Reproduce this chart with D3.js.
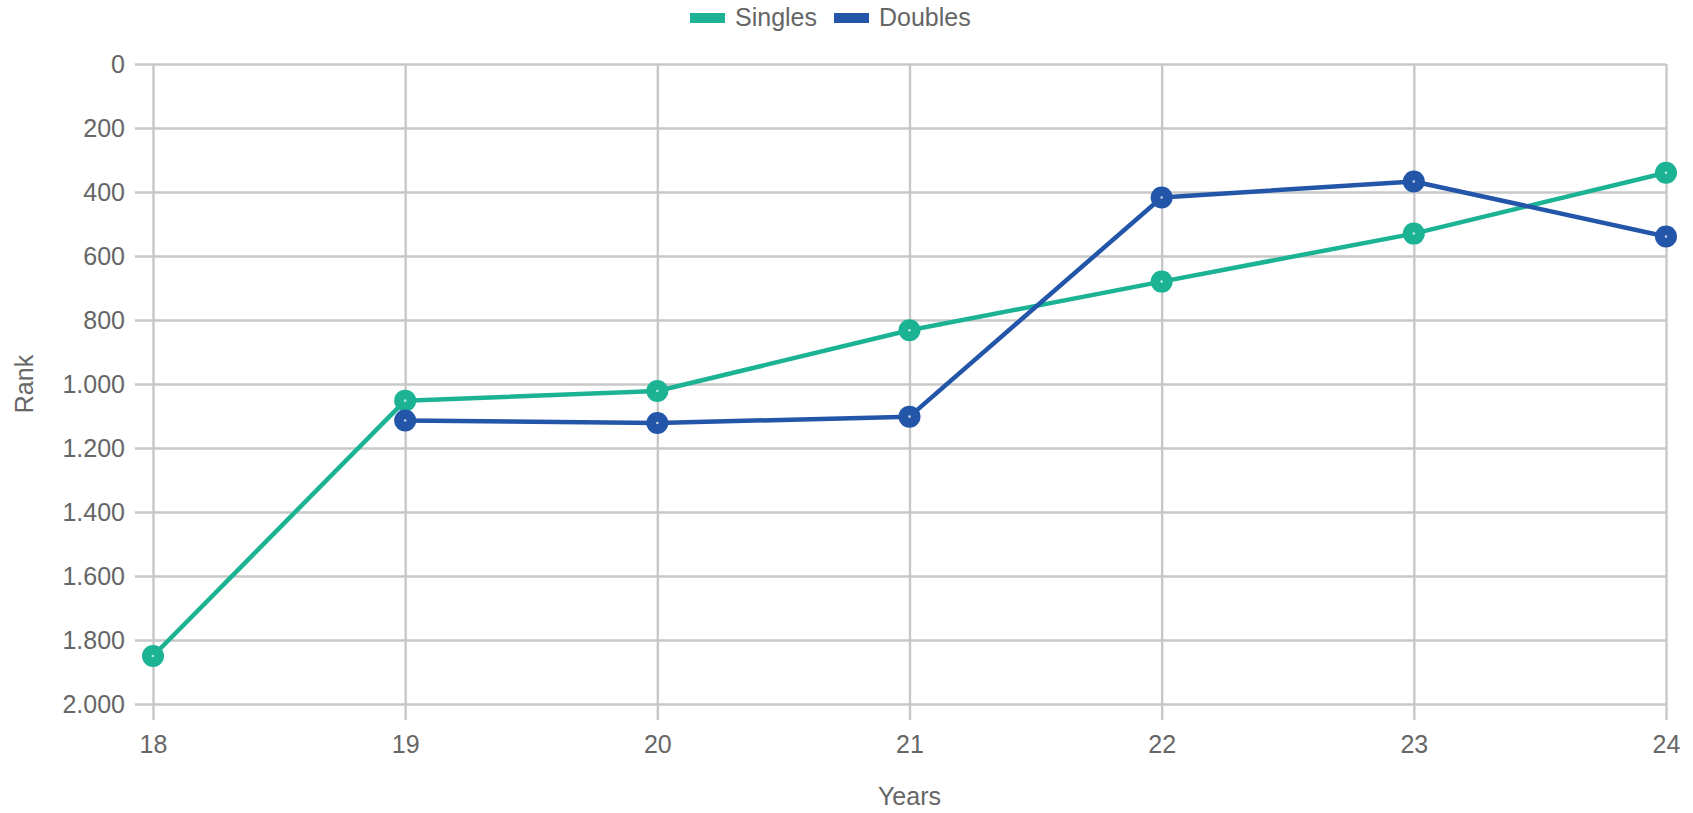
<!DOCTYPE html>
<html>
<head>
<meta charset="utf-8">
<script src="https://cdnjs.cloudflare.com/ajax/libs/d3/7.8.5/d3.min.js"></script>
<style>
  body { margin: 0; background: #fff; }
  text { font-family: "Liberation Sans", Arial, Helvetica, sans-serif; fill: #666; }
</style>
</head>
<body>
<div id="chart"></div>
<script>
// data
var years = ["18", "19", "20", "21", "22", "23", "24"];
var singles = [1850, 1052, 1022, 832, 680, 530, 340];
var doubles = [null, 1114, 1122, 1102, 417, 367, 539];
var rankTicks = [0, 200, 400, 600, 800, 1000, 1200, 1400, 1600, 1800, 2000];

var seriesNames = ["Singles", "Doubles"];
var seriesColors = ["#1bb394", "#2356a9"];

var W = 1693, H = 813;
var margin = {top: 64, right: 27, bottom: 109, left: 153};
var w = W - margin.left - margin.right;
var h = H - margin.top - margin.bottom;

var svg = d3.select("#chart").append("svg")
	.attr("width", W)
	.attr("height", H);

var x = d3.scalePoint().domain(years).range([0, w]);
var y = d3.scaleLinear().domain([0, 2000]).range([0, h]);

// german style thousands: 1.000
var de = d3.formatLocale({decimal: ",", thousands: ".", grouping: [3], currency: ["", " €"]});
var fmt = de.format(",d");

var g = svg.append("g").attr("transform", "translate(" + margin.left + "," + margin.top + ")");

// y grid + ticks (drawn from right edge so lines stick out 18px on the left)
var yAxis = g.append("g")
	.attr("transform", "translate(" + w + ",0)")
	.call(d3.axisLeft(y).tickValues(rankTicks).tickFormat(fmt).tickSize(w + 18).tickPadding(10));
yAxis.select(".domain").remove();
yAxis.selectAll("line").attr("stroke", "#c8c8c8").attr("stroke-width", 2.4);
yAxis.selectAll("text").style("font-size", "25px").attr("fill", "#666");

// x grid + ticks
var xAxis = g.append("g")
	.call(d3.axisBottom(x).tickSize(h + 16).tickPadding(15));
xAxis.select(".domain").remove();
xAxis.selectAll("line").attr("stroke", "#c8c8c8").attr("stroke-width", 2.4);
xAxis.selectAll("text").style("font-size", "25px").attr("fill", "#666");

// axis titles
svg.append("text")
	.attr("x", margin.left + w / 2)
	.attr("y", 805)
	.attr("text-anchor", "middle")
	.style("font-size", "25px")
	.text("Years");

svg.append("text")
	.attr("transform", "translate(33," + (margin.top + h / 2) + ") rotate(-90)")
	.attr("text-anchor", "middle")
	.style("font-size", "25px")
	.text("Rank");

// lines and points
var allSeries = [singles, doubles];
allSeries.forEach(function(vals, i) {
	var pts = years.map(function(yr, j) { return {yr: yr, v: vals[j]}; })
		.filter(function(d) { return d.v != null; });

	var line = d3.line()
		.x(function(d) { return x(d.yr); })
		.y(function(d) { return y(d.v); });

	g.append("path")
		.datum(pts)
		.attr("fill", "none")
		.attr("stroke", seriesColors[i])
		.attr("stroke-width", 4.5)
		.attr("stroke-linejoin", "round")
		.attr("d", line);

	g.selectAll(".pt" + i)
		.data(pts)
		.enter()
		.append("circle")
		.attr("cx", function(d) { return x(d.yr); })
		.attr("cy", function(d) { return y(d.v); })
		.attr("r", 11)
		.attr("fill", seriesColors[i]);

	g.selectAll(".dot" + i)
		.data(pts)
		.enter()
		.append("circle")
		.attr("cx", function(d) { return x(d.yr); })
		.attr("cy", function(d) { return y(d.v); })
		.attr("r", 1.3)
		.attr("fill", "#fff")
		.attr("opacity", 0.7);
});

// legend
var legendX = [690, 834];
seriesNames.forEach(function(name, i) {
	svg.append("rect")
		.attr("x", legendX[i])
		.attr("y", 13)
		.attr("width", 35)
		.attr("height", 10)
		.attr("fill", seriesColors[i]);
	svg.append("text")
		.attr("x", legendX[i] + 45)
		.attr("y", 26)
		.style("font-size", "25px")
		.text(name);
});
</script>
</body>
</html>
